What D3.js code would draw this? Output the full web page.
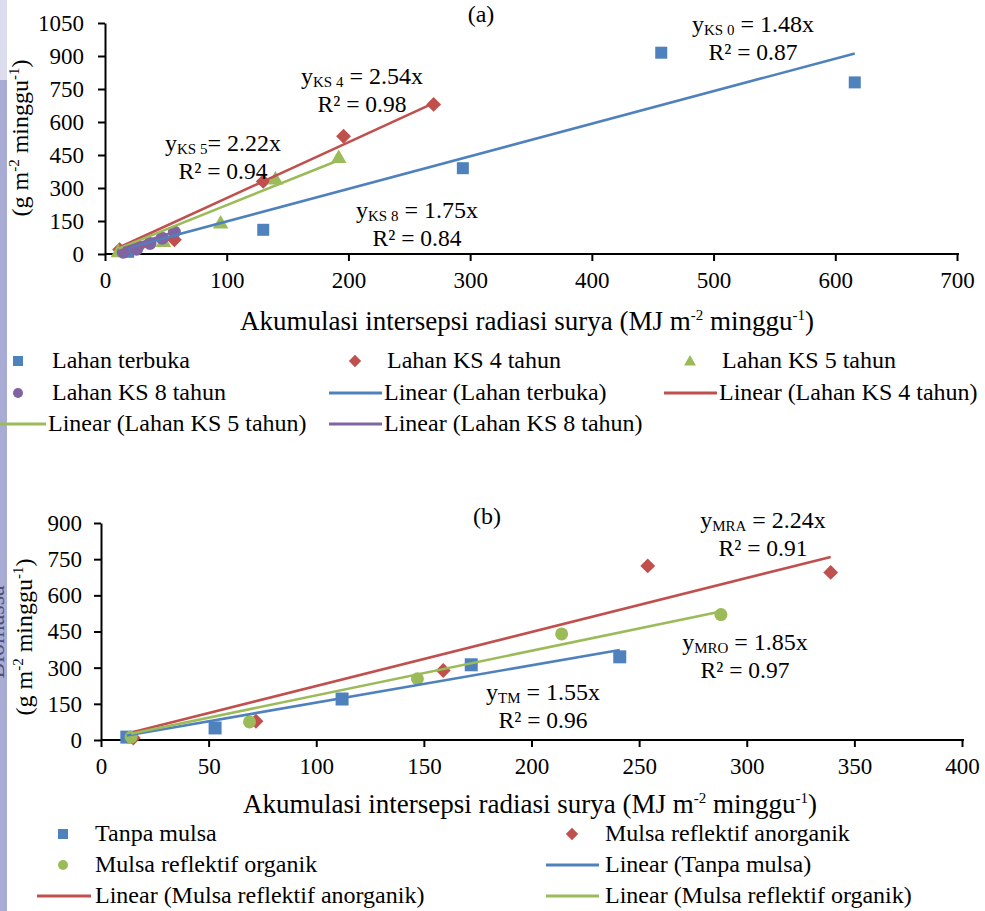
<!DOCTYPE html>
<html><head><meta charset="utf-8">
<script src="https://cdn.jsdelivr.net/npm/d3@7"></script>
<style>body{margin:0;background:#fff}svg{display:block}svg text{font-family:"Liberation Serif","Times New Roman",serif !important;fill:#000}</style>
</head><body>
<script>
// ---------- data (a) ----------
const xTicksA = [0,100,200,300,400,500,600,700];
const yTicksA = [0,150,300,450,600,750,900,1050];
const openX = [19,130,294,457,616];
const openY = [10,110,390,915,780];
const ks4X = [12,28,57,130,196,270];
const ks4Y = [20,35,65,330,535,680];
const ks5X = [11,48,95,140,192];
const ks5Y = [12,58,142,342,440];
const ks8X = [15,26,37,47,57];
const ks8Y = [8,22,48,72,100];
const slopesA = [1.48,2.54,2.22,1.75];
// ---------- data (b) ----------
const xTicksB = [0,50,100,150,200,250,300,350,400];
const yTicksB = [0,150,300,450,600,750,900];
const tmX = [12,53,112,172,241];
const tmY = [12,50,170,312,345];
const mraX = [15,72,159,254,339];
const mraY = [8,78,288,722,695];
const mroX = [14,69,147,214,288];
const mroY = [12,75,254,440,520];
const slopesB = [1.55,2.24,1.85];

const C = {blue:"#4F81BD", red:"#C0504D", green:"#9BBB59", purple:"#8064A2"};
const FS = {tick:23, title:27, ytitle:24, eq:24, r2:23.5, leg:24, sup:15};

const svg = d3.select("body").append("svg").attr("width",985).attr("height",911);

// left strip
svg.append("rect").attr("x",0).attr("y",0).attr("width",7).attr("height",911).attr("fill","#a8acd5");
svg.append("rect").attr("x",0).attr("y",0).attr("width",7).attr("height",80).attr("fill","#dcdcef");

function marker(g, shape, x, y, color, s){
  if(shape==="square") g.append("rect").attr("x",x-s/2).attr("y",y-s/2).attr("width",s).attr("height",s).attr("fill",color);
  else if(shape==="diamond") g.append("path").attr("fill",color)
      .attr("d",`M${x},${y-s*0.62}L${x+s*0.62},${y}L${x},${y+s*0.62}L${x-s*0.62},${y}Z`);
  else if(shape==="triangle") g.append("path").attr("fill",color)
      .attr("d",`M${x},${y-s*0.6}L${x+s*0.6},${y+s*0.45}L${x-s*0.6},${y+s*0.45}Z`);
  else g.append("circle").attr("cx",x).attr("cy",y).attr("r",s/2).attr("fill",color);
}

function drawChart(cfg){
  const g = svg.append("g");
  const x = d3.scaleLinear().domain(cfg.xd).range(cfg.xr);
  const y = d3.scaleLinear().domain(cfg.yd).range(cfg.yr);
  const ax = g.append("g").attr("transform",`translate(0,${cfg.yr[0]})`)
    .call(d3.axisBottom(x).tickValues(cfg.xt).tickFormat(d3.format("d")).tickSize(7).tickSizeOuter(0).tickPadding(11));
  const ay = g.append("g").attr("transform",`translate(${cfg.xr[0]},0)`)
    .call(d3.axisLeft(y).tickValues(cfg.yt).tickFormat(d3.format("d")).tickSize(7).tickSizeOuter(0).tickPadding(cfg.yPad));
  [ax,ay].forEach(a=>{
    a.attr("font-family",null).attr("font-size",null);
    a.selectAll("path,line").attr("stroke","#000").attr("stroke-width",2);
    a.selectAll("text").attr("font-size",FS.tick).attr("fill","#000");
  });
  ax.select(".domain").attr("d",`M${cfg.xr[0]},0H${cfg.xr[1]+2}`);
  cfg.series.forEach(s=>{
    s.xs.forEach((v,i)=>marker(g,s.shape,x(v),y(s.ys[i]),s.color,s.size));
  });
  cfg.series.forEach((s,k)=>{
    const e = d3.extent(s.xs);
    g.append("line").attr("x1",x(e[0])).attr("y1",y(e[0]*cfg.slopes[k]))
      .attr("x2",x(e[1])).attr("y2",y(e[1]*cfg.slopes[k]))
      .attr("stroke",s.color).attr("stroke-width",2.6);
  });
  return {g,x,y};
}

function eq(g, cx, cy, sub, slope, r2, subGap){
  const t = g.append("text").attr("x",cx).attr("y",cy-1).attr("text-anchor","middle").attr("font-size",FS.eq);
  t.append("tspan").text("y");
  t.append("tspan").attr("font-size",FS.sup).attr("dy",3).text(sub);
  t.append("tspan").attr("dy",-3).text((subGap?"":" ")+"= "+slope+"x");
  g.append("text").attr("x",cx).attr("y",cy+27).attr("text-anchor","middle").attr("font-size",FS.r2).text("R² = "+r2);
}

function xTitle(g, cx, cy){
  const t = g.append("text").attr("x",cx).attr("y",cy).attr("text-anchor","middle").attr("font-size",FS.title);
  t.append("tspan").text("Akumulasi intersepsi radiasi surya (MJ m");
  t.append("tspan").attr("font-size",FS.sup).attr("dy",-10).text("-2");
  t.append("tspan").attr("dy",10).text(" minggu");
  t.append("tspan").attr("font-size",FS.sup).attr("dy",-10).text("-1");
  t.append("tspan").attr("dy",10).text(")");
}
function yTitle(g, bx, cy){
  const t = g.append("text").attr("transform",`translate(${bx},${cy}) rotate(-90)`).attr("text-anchor","middle").attr("font-size",FS.ytitle);
  t.append("tspan").text("(g m");
  t.append("tspan").attr("font-size",FS.sup).attr("dy",-9).text("-2");
  t.append("tspan").attr("dy",9).text(" minggu");
  t.append("tspan").attr("font-size",FS.sup).attr("dy",-9).text("-1");
  t.append("tspan").attr("dy",9).text(")");
}

// ---------- chart (a) ----------
const A = drawChart({
  xd:[0,700], xr:[105,957], yd:[0,1050], yr:[254,23], xt:xTicksA, yt:yTicksA, yPad:14,
  slopes: slopesA,
  series:[
    {xs:openX, ys:openY, color:C.blue, shape:"square", size:12},
    {xs:ks4X, ys:ks4Y, color:C.red, shape:"diamond", size:12},
    {xs:ks5X, ys:ks5Y, color:C.green, shape:"triangle", size:13},
    {xs:ks8X, ys:ks8Y, color:C.purple, shape:"circle", size:13}
  ]
});
A.g.append("text").attr("x",481).attr("y",22).attr("text-anchor","middle").attr("font-size",FS.eq).text("(a)");
eq(A.g, 753, 33, "KS 0", "1.48", "0.87");
eq(A.g, 362, 85, "KS 4", "2.54", "0.98");
eq(A.g, 223, 152, "KS 5", "2.22", "0.94", true);
eq(A.g, 417, 219, "KS 8", "1.75", "0.84");
xTitle(A.g, 527, 330);
yTitle(A.g, 28, 138);

// legend
function legItem(lg, kind, shape, color, mx, ty, tx, label, lx1, lx2){
  if(kind==="m") marker(lg, shape, mx, ty-7, color, 10);
  else lg.append("line").attr("x1",lx1).attr("x2",lx2).attr("y1",ty-7).attr("y2",ty-7).attr("stroke",color).attr("stroke-width",3);
  lg.append("text").attr("x",tx).attr("y",ty).attr("font-size",FS.leg).text(label);
}
const legA = svg.append("g");
legItem(legA,"m","square",C.blue,18,368,52,"Lahan terbuka");
legItem(legA,"m","diamond",C.red,355,368,387,"Lahan KS 4 tahun");
legItem(legA,"m","triangle",C.green,690,368,722,"Lahan KS 5 tahun");
legItem(legA,"m","circle",C.purple,18,400,52,"Lahan KS 8 tahun");
legItem(legA,"l",null,C.blue,0,400,384,"Linear (Lahan terbuka)",329,382);
legItem(legA,"l",null,C.red,0,400,719,"Linear (Lahan KS 4 tahun)",664,717);
legItem(legA,"l",null,C.green,0,431,48,"Linear (Lahan KS 5 tahun)",0,46);
legItem(legA,"l",null,C.purple,0,431,384,"Linear (Lahan KS 8 tahun)",329,382);

// ---------- chart (b) ----------
const B = drawChart({
  xd:[0,400], xr:[101,962], yd:[0,900], yr:[740,523], xt:xTicksB, yt:yTicksB, yPad:12,
  slopes: slopesB,
  series:[
    {xs:tmX, ys:tmY, color:C.blue, shape:"square", size:13},
    {xs:mraX, ys:mraY, color:C.red, shape:"diamond", size:12},
    {xs:mroX, ys:mroY, color:C.green, shape:"circle", size:13}
  ]
});
B.g.append("text").attr("x",487).attr("y",524).attr("text-anchor","middle").attr("font-size",FS.eq).text("(b)");
eq(B.g, 763, 529, "MRA", "2.24", "0.91");
eq(B.g, 745, 651, "MRO", "1.85", "0.97");
eq(B.g, 543, 701, "TM", "1.55", "0.96");
xTitle(B.g, 530, 813);
yTitle(B.g, 32, 637);
svg.append("text").attr("transform","translate(4,632) rotate(-90)").attr("text-anchor","middle")
  .attr("font-size",FS.ytitle).style("fill","#4a4f7a").text("Biomassa");

const legB = svg.append("g");
legItem(legB,"m","square",C.blue,63,841,95,"Tanpa mulsa");
legItem(legB,"m","diamond",C.red,572,841,605,"Mulsa reflektif anorganik");
legItem(legB,"m","circle",C.green,63,872,95,"Mulsa reflektif organik");
legItem(legB,"l",null,C.blue,0,872,605,"Linear (Tanpa mulsa)",546,599);
legItem(legB,"l",null,C.red,0,903,95,"Linear (Mulsa reflektif anorganik)",37,91);
legItem(legB,"l",null,C.green,0,903,605,"Linear (Mulsa reflektif organik)",546,599);
</script>
</body></html>
